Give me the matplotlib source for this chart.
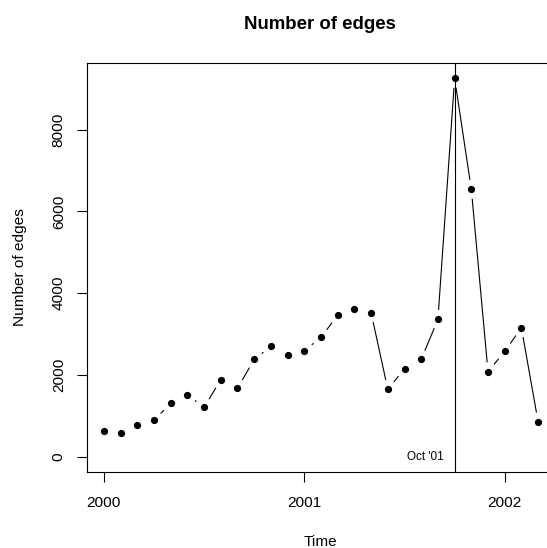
import numpy as np
import matplotlib
matplotlib.use("Agg")
import matplotlib.pyplot as plt

plt.rcParams['font.family'] = ['Liberation Sans', 'DejaVu Sans']

# monthly data Jan 2000 .. Mar 2002
months = np.arange(27)
time = 2000 + months / 12.0
edges = [620, 579, 767, 889, 1305, 1515, 1207, 1881, 1671, 2379, 2697, 2485,
         2590, 2917, 3462, 3601, 3520, 1647, 2150, 2379, 3357, 9252, 6540,
         2077, 2575, 3151, 848]
xticks = [2000, 2001, 2002]
yticks = [0, 2000, 4000, 6000, 8000]
event_x = 2001.75
event_label = "Oct '01"
title = "Number of edges"
xlabel = "Time"
ylabel = "Number of edges"

W, H = 547, 548
fig = plt.figure(figsize=(W / 100, H / 100), dpi=100)

# R-style 4% padding
xr = time[-1] - time[0]
xlim = (time[0] - 0.04 * xr, time[-1] + 0.04 * xr)
ymax = max(edges)
ylim = (0 - 0.04 * ymax, ymax * 1.04)

left_px, right_px = 86.5, 555.5
top_px, bot_px = 63.2, 471.8
ax = fig.add_axes([left_px / W, (H - bot_px) / H, (right_px - left_px) / W, (bot_px - top_px) / H])
ax.set_xlim(*xlim)
ax.set_ylim(*ylim)

for s in ax.spines.values():
    s.set_linewidth(0.8)
    s.set_color('black')

ax.set_xticks(xticks)
ax.set_xticklabels([str(t) for t in xticks])
ax.set_yticks(yticks)
ax.set_yticklabels([str(t) for t in yticks], rotation=90, va='center')
ax.tick_params(axis='both', direction='out', length=7.2, width=0.8, labelsize=11.1)
ax.tick_params(axis='x', pad=10)
ax.tick_params(axis='y', pad=7.7)

# type="b": points with gapped line segments
ax.plot(time, edges, linestyle='none', marker='o', markersize=4.2, color='black')
fig.canvas.draw()
pts = ax.transData.transform(np.column_stack([time, edges]))
gap = 9.5 * fig.dpi / 100.0
inv = ax.transData.inverted()
for i in range(len(pts) - 1):
    p0, p1 = pts[i], pts[i + 1]
    d = p1 - p0
    L = np.hypot(*d)
    if L <= 2 * gap:
        continue
    u = d / L
    a = inv.transform(p0 + u * gap)
    b = inv.transform(p1 - u * gap)
    ax.plot([a[0], b[0]], [a[1], b[1]], color='black', lw=0.8, solid_capstyle='butt')

ax.axvline(event_x, color='black', lw=0.8)
ax.annotate(event_label, xy=(event_x, 0), xytext=(-8, 0), textcoords='offset points',
            ha='right', va='center', fontsize=8.5)

cx = 320.3 / W
fig.text(cx, 1 - 29 / H, title, ha='center', va='baseline', fontsize=13.4, fontweight='bold')
fig.text(cx, 1 - 546 / H, xlabel, ha='center', va='baseline', fontsize=11.1)
fig.text(24 / W, 1 - (top_px + bot_px) / 2 / H, ylabel, ha='center', va='baseline',
         rotation=90, rotation_mode='anchor', fontsize=11.1)

fig.savefig('out.png', dpi=100)
